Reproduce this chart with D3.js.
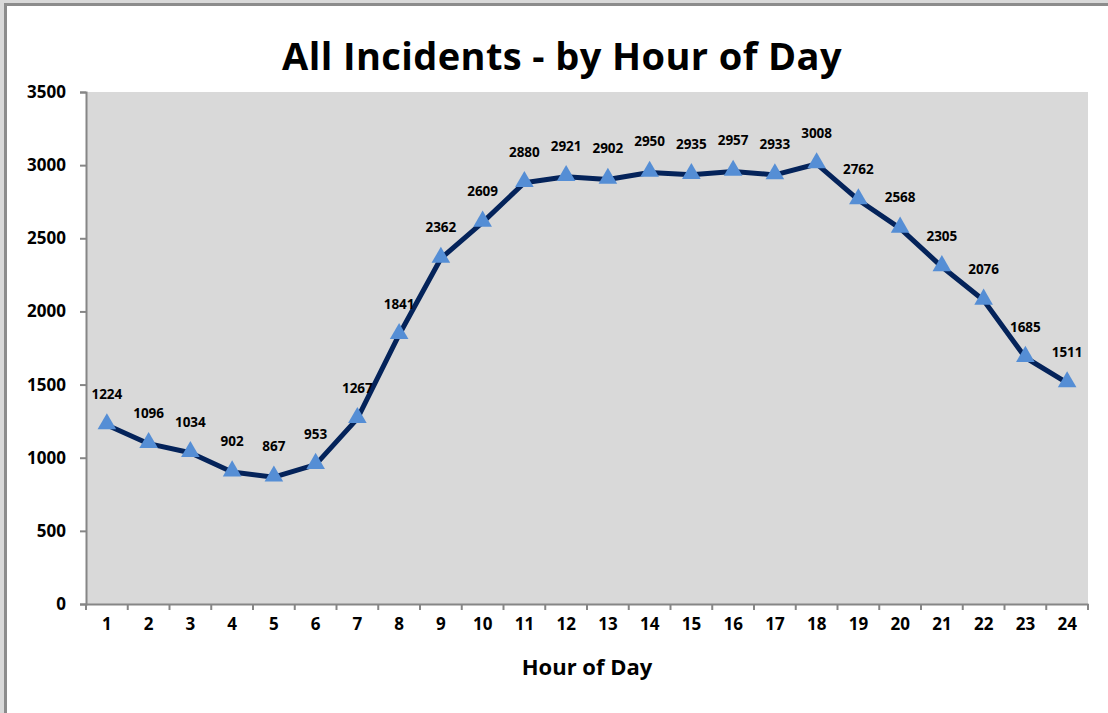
<!DOCTYPE html>
<html>
<head>
<meta charset="utf-8">
<script src="https://cdn.jsdelivr.net/npm/d3@7"></script>
<style>
  body { margin: 0; background: #d9d9d9; }
  text { font-family: "Open Sans", Lato, sans-serif; font-weight: bold; fill: #000; }
</style>
</head>
<body>
<div id="chart"></div>
<script>
// chart values
var hours = ["1","2","3","4","5","6","7","8","9","10","11","12","13","14","15","16","17","18","19","20","21","22","23","24"];
var incidents = [1224,1096,1034,902,867,953,1267,1841,2362,2609,2880,2921,2902,2950,2935,2957,2933,3008,2762,2568,2305,2076,1685,1511];
var yTicks = [0,500,1000,1500,2000,2500,3000,3500];
var chartTitle = "All Incidents - by Hour of Day";
var xTitle = "Hour of Day";

var W = 1108, H = 713;
var margin = { top: 92, right: 20, bottom: 109, left: 86 },
    width = 1088 - margin.left,
    height = 604 - margin.top;

var svg = d3.select("#chart")
    .append("svg")
    .attr("width", W)
    .attr("height", H);

// outer chart frame
svg.append("rect")
    .attr("x", 5.5).attr("y", 4.5)
    .attr("width", W + 10).attr("height", H + 10)
    .attr("fill", "#fff")
    .attr("stroke", "#8c8c8c")
    .attr("stroke-width", 3);

var g = svg.append("g")
    .attr("transform", "translate(" + margin.left + "," + margin.top + ")");

// plot area
g.append("rect")
    .attr("width", width)
    .attr("height", height)
    .attr("fill", "#d9d9d9");

var x = d3.scaleBand().domain(hours).range([0, width]);
var y = d3.scaleLinear().domain([0, 3500]).range([height, 0]);

// Y axis
var yAxis = g.append("g")
    .call(d3.axisLeft(y).tickValues(yTicks).tickSize(6).tickPadding(14).tickFormat(d3.format("d")));
yAxis.selectAll("text").style("font-size", "17px");

// X axis
var xAxis = g.append("g")
    .attr("transform", "translate(0," + height + ")")
    .call(d3.axisBottom(x).tickSize(0).tickPadding(14));
xAxis.selectAll("text").style("font-size", "17px");
// tick marks sit on band boundaries
xAxis.selectAll(".bound")
    .data(d3.range(hours.length + 1))
    .enter().append("line")
    .attr("class", "bound")
    .attr("x1", function (i) { return i * x.step(); })
    .attr("x2", function (i) { return i * x.step(); })
    .attr("y1", 0).attr("y2", 6);

svg.selectAll(".domain, .tick line, .bound")
    .attr("stroke", "#868686")
    .attr("stroke-width", 2);

// the line
var cx = function (d, i) { return x(hours[i]) + x.bandwidth() / 2; };
g.append("path")
    .datum(incidents)
    .attr("fill", "none")
    .attr("stroke", "#04235a")
    .attr("stroke-width", 5)
    .attr("stroke-linejoin", "round")
    .attr("d", d3.line().x(cx).y(function (d) { return y(d); }));

// triangle markers
var tri = d3.symbol().type(d3.symbolTriangle).size(150);
g.selectAll(".marker")
    .data(incidents)
    .enter().append("path")
    .attr("class", "marker")
    .attr("d", tri)
    .attr("fill", "#558ed5")
    .attr("transform", function (d, i) { return "translate(" + cx(d, i) + "," + (y(d) - 1) + ")"; });

// value labels
g.selectAll(".vlabel")
    .data(incidents)
    .enter().append("text")
    .attr("class", "vlabel")
    .attr("text-anchor", "middle")
    .attr("x", cx)
    .attr("y", function (d) { return y(d) - 26; })
    .style("font-size", "13.5px")
    .text(function (d) { return d; });

// titles
svg.append("text")
    .attr("x", 562)
    .attr("y", 70)
    .attr("text-anchor", "middle")
    .style("font-size", "38px")
    .style("letter-spacing", "0.4px")
    .text(chartTitle);

svg.append("text")
    .attr("x", 587)
    .attr("y", 675)
    .attr("text-anchor", "middle")
    .style("font-size", "22px")
    .text(xTitle);
</script>
</body>
</html>
